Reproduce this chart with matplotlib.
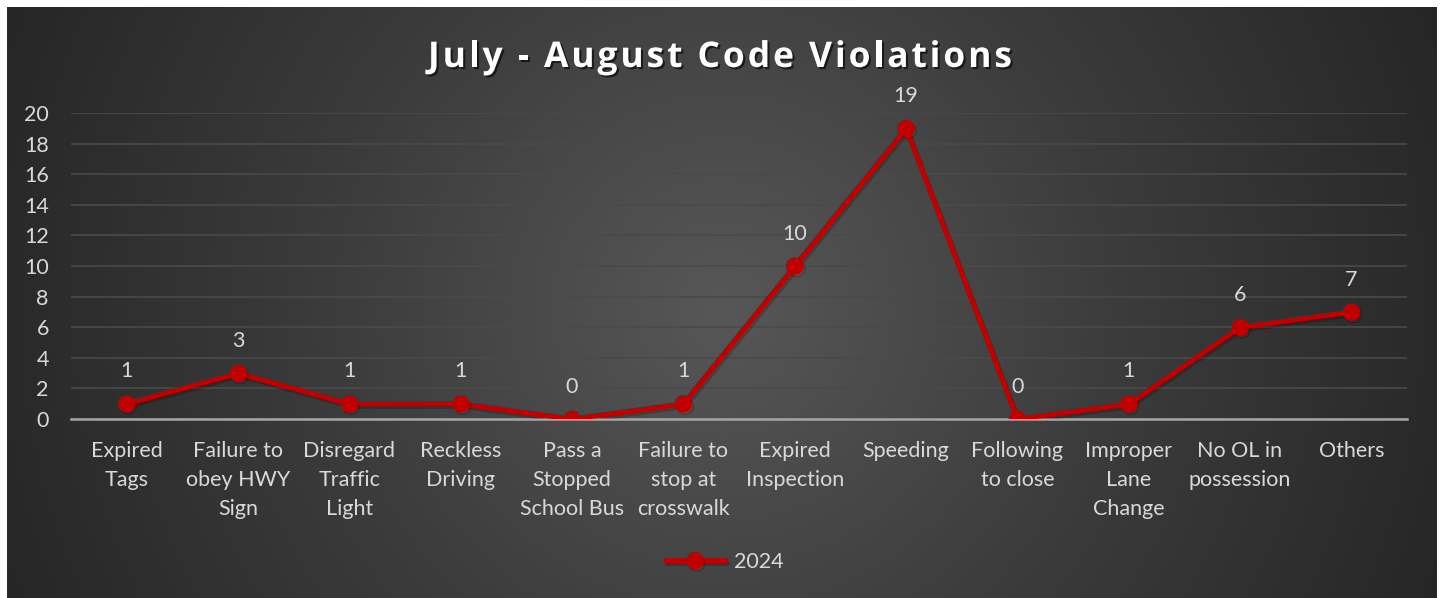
import numpy as np
import matplotlib
matplotlib.use("Agg")
import matplotlib.pyplot as plt
import matplotlib.patheffects as pe
from matplotlib.colors import LinearSegmentedColormap

plt.rcParams["font.family"] = ["Lato", "DejaVu Sans"]

title = "July - August Code Violations"
categories = ["Expired\nTags", "Failure to\nobey HWY\nSign", "Disregard\nTraffic\nLight",
              "Reckless\nDriving", "Pass a\nStopped\nSchool Bus", "Failure to\nstop at\ncrosswalk",
              "Expired\nInspection", "Speeding", "Following\nto close", "Improper\nLane\nChange",
              "No OL in\npossession", "Others"]
values_2024 = [1, 3, 1, 1, 0, 1, 10, 19, 0, 1, 6, 7]
y_ticks = list(range(0, 21, 2))

RED = "#C00000"
TXT = "#D9D9D9"
FS = 15.5

W, H = 1443, 598
fig = plt.figure(figsize=(W / 100, H / 100), dpi=100)
fig.patch.set_facecolor("white")

# radial gradient background
bg = fig.add_axes([7 / W, 0, 1430 / W, 1 - 7 / H])
bg.axis("off")
yy, xx = np.mgrid[0:591, 0:1430]
d = np.hypot(xx - 715, yy - 300) / np.hypot(715, 300)
cmap = LinearSegmentedColormap.from_list("bg", ["#575757", "#3c3c3c", "#262626"])
bg.imshow(d, cmap=cmap, vmin=0, vmax=1, aspect="auto", extent=(0, 1, 0, 1))
bg.set_xlim(0, 1)
bg.set_ylim(0, 1)

ax = fig.add_axes([71 / W, 1 - 419 / H, (1407 - 71) / W, (419 - 113) / H])
ax.patch.set_alpha(0)
x = np.arange(len(categories))
ax.plot(x, values_2024, color=RED, lw=3.6, marker="o", ms=11.5, label="2024",
        solid_capstyle="round", solid_joinstyle="round",
        path_effects=[pe.SimpleLineShadow(offset=(1.5, -2), shadow_color="black", alpha=0.2),
                      pe.Normal()])
for xi, v in zip(x, values_2024):
    ax.annotate(str(v), (xi, v), xytext=(0, 16), textcoords="offset points",
                ha="center", va="bottom", color=TXT, fontsize=FS)

ax.set_xlim(-0.5, len(categories) - 0.5)
ax.set_ylim(0, 20)
ax.set_yticks(y_ticks)
ax.set_xticks(x)
ax.set_xticklabels(categories, linespacing=1.55)
ax.tick_params(axis="both", length=0, colors=TXT, labelsize=FS)
ax.tick_params(axis="y", pad=16)
ax.tick_params(axis="x", pad=16)
ax.grid(axis="y", color="#4a4a4a", lw=1.2)
ax.set_axisbelow(True)
for s in ["top", "right", "left"]:
    ax.spines[s].set_visible(False)
ax.spines["bottom"].set_color("#a6a6a6")
ax.spines["bottom"].set_linewidth(1.8)
ax.spines["bottom"].set_zorder(1)

# title with letter spacing: place each character after measuring the prefix
tkw = dict(color="white", fontsize=25.5, fontweight="bold", family=["Open Sans", "DejaVu Sans"],
           va="baseline", ha="left",
           path_effects=[pe.withSimplePatchShadow(offset=(1.5, -1.5), shadow_rgbFace="black", alpha=0.6)])
renderer = fig.canvas.get_renderer()
probe = fig.text(0, 0, title, **tkw)
base_w = probe.get_window_extent(renderer).width
probe.remove()
target_w = 584
spacing = (target_w - base_w) / (len(title) - 1)
x0 = 720 - target_w / 2
baseline = H - 67
for i, ch in enumerate(title):
    if i == 0:
        off = 0.0
    else:
        p = fig.text(0, 0, title[:i] + "|", **tkw)
        q = fig.text(0, 0, "|", **tkw)
        off = p.get_window_extent(renderer).width - q.get_window_extent(renderer).width
        p.remove()
        q.remove()
    fig.text((x0 + off + i * spacing) / W, baseline / H, ch, **tkw)

leg = fig.legend(loc="center", bbox_to_anchor=(724 / W, 1 - 562 / H), frameon=False,
                 fontsize=FS, handlelength=2.8, handletextpad=0.4)
for t in leg.get_texts():
    t.set_color(TXT)

fig.savefig("out.png", dpi=100, facecolor=fig.get_facecolor())
